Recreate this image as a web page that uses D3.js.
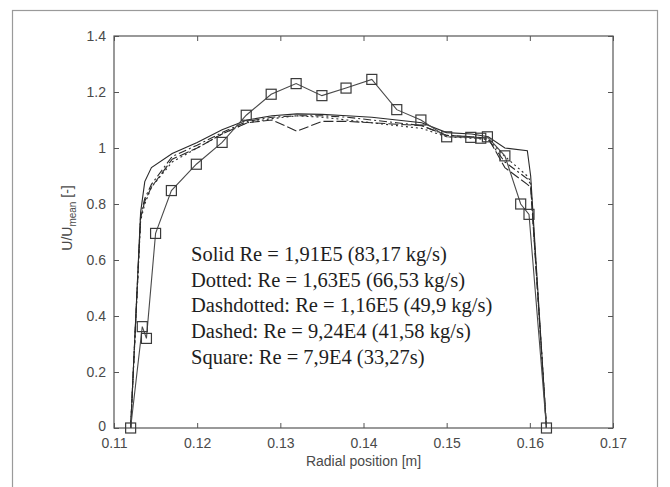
<!DOCTYPE html>
<html>
<head>
<meta charset="utf-8">
<script src="https://cdn.jsdelivr.net/npm/d3@7"></script>
<style>
  body { margin: 0; background: #fff; }
  svg { display: block; }
</style>
</head>
<body>
<div id="chart"></div>
<script>
// radial positions shared by the four line profiles
const radialPos = [0.112, 0.1132, 0.1137, 0.1145, 0.117, 0.120, 0.123, 0.126, 0.129, 0.132, 0.135,
    0.138, 0.141, 0.144, 0.147, 0.150, 0.153, 0.155, 0.157, 0.1597, 0.1601, 0.162];
const solidU   = [0, 0.77, 0.88, 0.93, 0.98, 1.02, 1.065, 1.10, 1.115, 1.122, 1.12, 1.115, 1.11, 1.10, 1.09, 1.055, 1.05, 1.04, 1.0, 0.99, 0.9, 0];
const dottedU  = [0, 0.74, 0.80, 0.86, 0.95, 1.0, 1.05, 1.09, 1.105, 1.115, 1.11, 1.10, 1.09, 1.08, 1.07, 1.04, 1.035, 1.03, 0.97, 0.9, 0.88, 0];
const dashdotU = [0, 0.76, 0.82, 0.87, 0.97, 1.01, 1.055, 1.095, 1.11, 1.115, 1.115, 1.11, 1.10, 1.09, 1.08, 1.045, 1.04, 1.03, 0.95, 0.89, 0.87, 0];
const dashedU  = [0, 0.75, 0.81, 0.86, 0.96, 1.0, 1.05, 1.09, 1.10, 1.06, 1.095, 1.095, 1.09, 1.085, 1.08, 1.045, 1.04, 1.035, 0.93, 0.87, 0.86, 0];

// square marker profile
const squareX = [0.112, 0.1134, 0.1139, 0.115, 0.1169, 0.1199, 0.123, 0.1259, 0.1289, 0.1319, 0.135, 0.1379,
    0.141, 0.144, 0.1469, 0.150, 0.1529, 0.1541, 0.1549, 0.157, 0.1589, 0.1599, 0.162];
const squareU = [0, 0.362, 0.32, 0.695, 0.848, 0.942, 1.02, 1.117, 1.192, 1.23, 1.187, 1.214,
    1.245, 1.137, 1.10, 1.04, 1.038, 1.035, 1.04, 0.972, 0.80, 0.763, 0];

const xTicks = [0.11, 0.12, 0.13, 0.14, 0.15, 0.16, 0.17];
const yTicks = [0, 0.2, 0.4, 0.6, 0.8, 1, 1.2, 1.4];

const legendLines = [
    "Solid Re = 1,91E5 (83,17 kg/s)",
    "Dotted: Re = 1,63E5 (66,53 kg/s)",
    "Dashdotted: Re = 1,16E5 (49,9 kg/s)",
    "Dashed: Re = 9,24E4 (41,58 kg/s)",
    "Square: Re = 7,9E4 (33,27s)"
];

const W = 670, H = 487;
const plot = { left: 114, right: 613, top: 36, bottom: 428 };

const svg = d3.select("#chart").append("svg")
    .attr("width", W)
    .attr("height", H);

svg.append("rect").attr("width", W).attr("height", H).attr("fill", "#fff");

// outer frame
svg.append("rect")
    .attr("x", 12.5).attr("y", 10.5)
    .attr("width", 645).attr("height", 490)
    .attr("fill", "none")
    .attr("stroke", "#9a9a9a")
    .attr("stroke-width", 1.2);

const x = d3.scaleLinear().domain([0.11, 0.17]).range([plot.left, plot.right]);
const y = d3.scaleLinear().domain([0, 1.4]).range([plot.bottom, plot.top]);

const axisColor = "#555";
const labelColor = "#4a4a4a";

// box
svg.append("rect")
    .attr("x", plot.left).attr("y", plot.top)
    .attr("width", plot.right - plot.left).attr("height", plot.bottom - plot.top)
    .attr("fill", "none").attr("stroke", axisColor).attr("stroke-width", 1.2);

function styleAxis(g) {
    g.select(".domain").remove();
    g.selectAll(".tick line").attr("stroke", axisColor);
    g.selectAll(".tick text")
        .attr("fill", labelColor)
        .style("font-family", "Liberation Sans, Arial, sans-serif")
        .style("font-size", "14px");
}

// bottom & top ticks (inside)
svg.append("g")
    .attr("transform", `translate(0,${plot.bottom})`)
    .call(d3.axisBottom(x).tickValues(xTicks).tickSize(-5).tickPadding(10).tickFormat(d3.format(".2f")))
    .call(styleAxis);
svg.append("g")
    .attr("transform", `translate(0,${plot.top})`)
    .call(d3.axisTop(x).tickValues(xTicks).tickSize(-5).tickFormat(""))
    .call(styleAxis);

// left & right ticks
svg.append("g")
    .attr("transform", `translate(${plot.left},0)`)
    .call(d3.axisLeft(y).tickValues(yTicks).tickSize(-5).tickPadding(8).tickFormat(d => d3.format("~g")(d)))
    .call(styleAxis)
    .call(g => g.selectAll(".tick text").filter(d => d === 0).attr("dy", "0.15em"));
svg.append("g")
    .attr("transform", `translate(${plot.right},0)`)
    .call(d3.axisRight(y).tickValues(yTicks).tickSize(-5).tickFormat(""))
    .call(styleAxis);

// axis labels
svg.append("text")
    .attr("x", (plot.left + plot.right) / 2)
    .attr("y", 466)
    .attr("text-anchor", "middle")
    .attr("fill", labelColor)
    .style("font-family", "Liberation Sans, Arial, sans-serif")
    .style("font-size", "14px")
    .text("Radial position [m]");

const yl = svg.append("text")
    .attr("transform", "translate(72,218) rotate(-90)")
    .attr("text-anchor", "middle")
    .attr("fill", labelColor)
    .style("font-family", "Liberation Sans, Arial, sans-serif")
    .style("font-size", "14px");
yl.append("tspan").text("U/U");
yl.append("tspan").attr("dy", 4).style("font-size", "10px").text("mean");
yl.append("tspan").attr("dy", -4).text(" [-]");

// line profiles
const profiles = [
    { u: solidU, dash: null },
    { u: dottedU, dash: "2,3" },
    { u: dashdotU, dash: "8,3,2,3" },
    { u: dashedU, dash: "10,3" }
];

const line = d3.line().x(d => x(d[0])).y(d => y(d[1]));

svg.append("g").selectAll("path")
    .data(profiles)
    .enter()
    .append("path")
    .attr("d", p => line(radialPos.map((r, i) => [r, p.u[i]])))
    .attr("fill", "none")
    .attr("stroke", "#2a2a2a")
    .attr("stroke-width", 1.1)
    .attr("stroke-dasharray", p => p.dash);

// square profile
const sq = squareX.map((r, i) => [r, squareU[i]]);
svg.append("path")
    .attr("d", line(sq))
    .attr("fill", "none")
    .attr("stroke", "#4a4a4a")
    .attr("stroke-width", 1.1);

svg.append("g").selectAll("rect")
    .data(sq)
    .enter()
    .append("rect")
    .attr("x", d => x(d[0]) - 5)
    .attr("y", d => y(d[1]) - 5)
    .attr("width", 10)
    .attr("height", 10)
    .attr("fill", "none")
    .attr("stroke", "#3a3a3a")
    .attr("stroke-width", 1.2);

// legend text
svg.append("g").selectAll("text")
    .data(legendLines)
    .enter()
    .append("text")
    .attr("x", 191)
    .attr("y", (d, i) => 261 + i * 25.7)
    .attr("fill", "#1e1e1e")
    .style("font-family", "Liberation Serif, Times New Roman, serif")
    .style("font-size", "20.5px")
    .text(d => d);
</script>
</body>
</html>
